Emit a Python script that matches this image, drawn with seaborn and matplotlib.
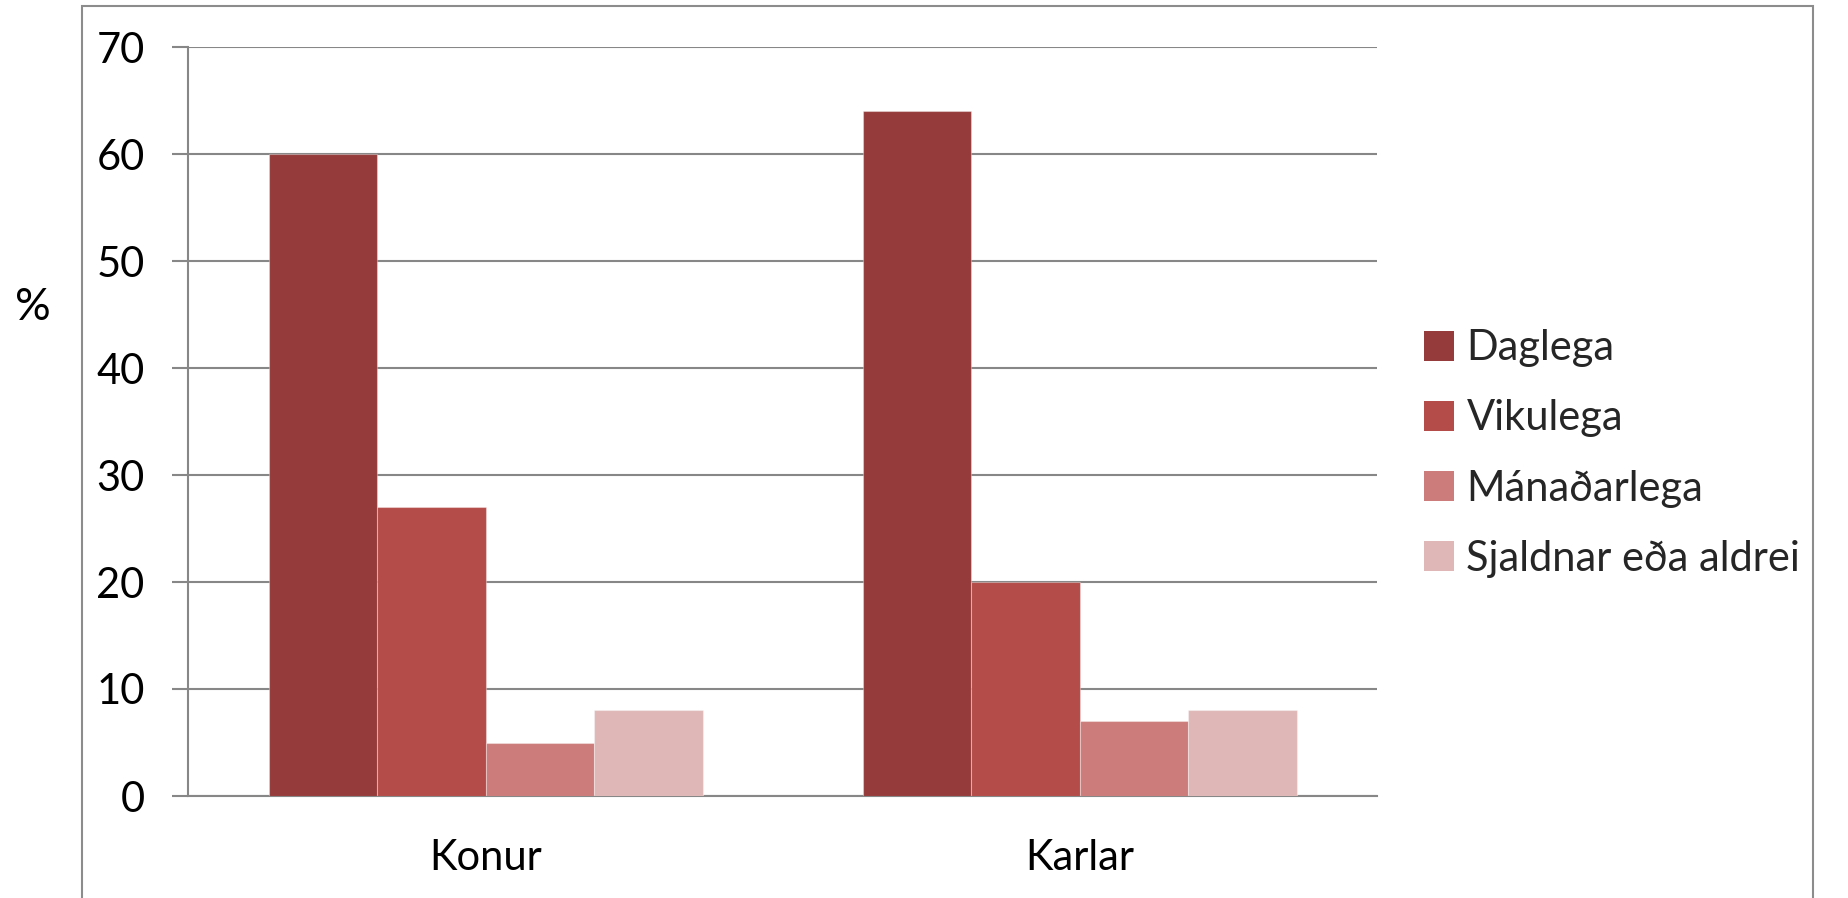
import matplotlib
matplotlib.use("Agg")
import matplotlib.pyplot as plt
import matplotlib.patches as mpatches
import seaborn as sns
import pandas as pd

# ---- data ----
groups = ["Konur", "Karlar"]
frequencies = ["Daglega", "Vikulega", "Mánaðarlega", "Sjaldnar eða aldrei"]
konur_values = [60, 27, 5, 8]
karlar_values = [64, 20, 7, 8]
colors = ["#953B3B", "#B44C49", "#CB7C7B", "#DFB7B7"]
y_ticks = [0, 10, 20, 30, 40, 50, 60, 70]

rows = []
for g, vals in zip(groups, [konur_values, karlar_values]):
    for f, v in zip(frequencies, vals):
        rows.append({"group": g, "freq": f, "value": v})
df = pd.DataFrame(rows)

sns.set_theme(style="white")
plt.rcParams["font.family"] = ["Lato", "DejaVu Sans"]

FS = 30
W, H = 1849, 898
fig = plt.figure(figsize=(W / 100, H / 100), dpi=100)
ax = fig.add_axes([188.5 / W, 1 - 796 / H, (1377 - 188.5) / W, (796 - 47) / H])

grid_c = "#878787"
sns.barplot(data=df, x="group", y="value", hue="freq", hue_order=frequencies,
            palette=colors, width=0.73, ax=ax, edgecolor=(1, 1, 1, 0.35),
            linewidth=0.8, saturation=1, zorder=3)

ax.set_xlim(-0.5, 1.5)
ax.set_ylim(0, 70)
ax.set_yticks(y_ticks)
ax.set_yticklabels([str(t) for t in y_ticks])
ax.yaxis.grid(True, color=grid_c, linewidth=1.5, zorder=0)
ax.set_axisbelow(True)

ax.set_xticks([0, 1])
ax.set_xticklabels(groups)
ax.set_xticks([-0.5, 0.5, 1.5], minor=True)
ax.tick_params(axis="x", which="major", length=0, pad=31, labelsize=FS, labelcolor="black")
ax.tick_params(axis="x", which="minor", length=11, width=1.5, color=grid_c, direction="out")
ax.tick_params(axis="y", which="major", length=11.5, width=1.5, color=grid_c, pad=20,
               labelsize=FS, labelcolor="black", left=True)

for s in ["top", "right"]:
    ax.spines[s].set_visible(False)
for s in ["left", "bottom"]:
    ax.spines[s].set_color(grid_c)
    ax.spines[s].set_linewidth(1.5)

ax.set_xlabel("")
ax.set_ylabel("")
fig.text(33 / W, 1 - 308 / H, "%", fontsize=FS + 2, ha="center", va="center", color="black")

handles, labels = ax.get_legend_handles_labels()
leg = ax.legend(handles, labels, loc="center left",
                bbox_to_anchor=(1424 / W, 1 - 453.5 / H), bbox_transform=fig.transFigure,
                frameon=False, fontsize=FS, borderpad=0, borderaxespad=0,
                handlelength=0.72, handleheight=0.72, handletextpad=0.3,
                labelspacing=0.77)
for h in leg.legend_handles:
    h.set_edgecolor("none")

frame = mpatches.Rectangle((82 / W, -0.1), (1813 - 82) / W, 1.1 - 6 / H,
                           transform=fig.transFigure, fill=False,
                           edgecolor="#8C8C8C", linewidth=1.5)
fig.patches.append(frame)

fig.savefig("out.png", dpi=100, facecolor="white")
